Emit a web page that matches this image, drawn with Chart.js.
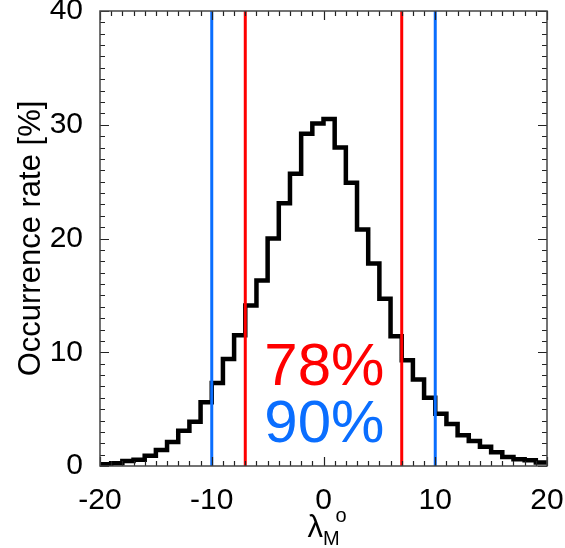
<!DOCTYPE html>
<html>
<head>
<meta charset="utf-8">
<script src="https://cdn.jsdelivr.net/npm/chart.js@4.4.1/dist/chart.umd.min.js"></script>
<style>
  html, body { margin: 0; padding: 0; background: #fff; }
  #wrap { width: 565px; height: 548px; }
</style>
</head>
<body>
<div id="wrap"><canvas id="hist__canvas" width="565" height="548"></canvas></div>
<script>
// left edge of each 1-degree bin
const binLeft = [
  -20, -19, -18, -17, -16, -15, -14, -13, -12, -11,
  -10, -9, -8, -7, -6, -5, -4, -3, -2, -1,
  0, 1, 2, 3, 4, 5, 6, 7, 8, 9,
  10, 11, 12, 13, 14, 15, 16, 17, 18, 19,
];
const binRight = 20;
// occurrence rate [%] per bin
const occurrence = [
  0.15, 0.25, 0.45, 0.55, 0.9, 1.4, 2.1, 3.1, 3.9, 5.6,
  7.3, 9.4, 11.5, 14.1, 16.3, 20.0, 23.1, 25.7, 29.2, 30.1,
  30.5, 28.0, 24.9, 20.8, 17.8, 14.7, 11.4, 9.3, 7.6, 6.0,
  4.6, 3.7, 2.7, 2.2, 1.7, 1.2, 0.8, 0.6, 0.5, 0.3,
];
const redLines = [-7, 7];
const blueLines = [-10, 10];
const xTickLabels = [-20, -10, 0, 10, 20];
const yTickLabels = [0, 10, 20, 30, 40];
const notes = ["78%", "90%"];
const notePos = [[-5.3, 7.1], [-5.3, 2.1]];

const RED = "#ff0000";
const BLUE = "#0a6eff";
const FONT = "'Liberation Sans', Arial, sans-serif";

function histPoints() {
  const pts = binLeft.map((x, i) => ({ x: x, y: occurrence[i] }));
  pts.push({ x: binRight, y: occurrence[occurrence.length - 1] });
  return pts;
}

function vline(x, color) {
  return {
    data: [{ x: x, y: 0 }, { x: x, y: 40 }],
    borderColor: color,
    borderWidth: 3,
    pointRadius: 0,
    order: 0,
  };
}

// IDL style inward ticks on all four sides plus the frame
const frameTicks = {
  id: "frameTicks",
  afterDatasetsDraw(chart) {
    const { ctx, chartArea: a } = chart;
    const xs = chart.scales.x;
    const ys = chart.scales.y;
    ctx.save();
    ctx.strokeStyle = "#222";
    ctx.lineWidth = 1.2;
    xs.ticks.forEach((t) => {
      const px = Math.round(xs.getPixelForValue(t.value)) + 0.5;
      const len = xTickLabels.includes(t.value) ? 9 : 5;
      ctx.beginPath();
      ctx.moveTo(px, a.bottom);
      ctx.lineTo(px, a.bottom - len);
      ctx.moveTo(px, a.top);
      ctx.lineTo(px, a.top + len);
      ctx.stroke();
    });
    ys.ticks.forEach((t) => {
      const py = Math.round(ys.getPixelForValue(t.value)) + 0.5;
      const len = yTickLabels.includes(t.value) ? 9 : 5;
      ctx.beginPath();
      ctx.moveTo(a.left, py);
      ctx.lineTo(a.left + len, py);
      ctx.moveTo(a.right, py);
      ctx.lineTo(a.right - len, py);
      ctx.stroke();
    });
    ctx.strokeStyle = "#444";
    ctx.lineWidth = 1.5;
    ctx.strokeRect(a.left, a.top, a.right - a.left, a.bottom - a.top);
    ctx.restore();
  },
};

const notesAndTitles = {
  id: "notesAndTitles",
  afterDraw(chart) {
    const { ctx, chartArea: a } = chart;
    const xs = chart.scales.x;
    const ys = chart.scales.y;
    ctx.save();
    ctx.textAlign = "left";
    ctx.textBaseline = "alphabetic";
    ctx.font = "60px " + FONT;
    const colors = [RED, BLUE];
    notes.forEach((txt, i) => {
      ctx.fillStyle = colors[i];
      ctx.fillText(txt, xs.getPixelForValue(notePos[i][0]), ys.getPixelForValue(notePos[i][1]));
    });

    // y title
    ctx.fillStyle = "#000";
    ctx.font = "31px " + FONT;
    ctx.translate(40, (a.top + a.bottom) / 2);
    ctx.rotate(-Math.PI / 2);
    ctx.textAlign = "center";
    ctx.fillText("Occurrence rate [%]", 0, 0);
    ctx.setTransform(1, 0, 0, 1, 0, 0);

    // x title: lambda_M ^o
    const cx = (a.left + a.right) / 2;
    ctx.textAlign = "left";
    ctx.font = "31px " + FONT;
    const wl = ctx.measureText("λ").width;
    ctx.font = "20px " + FONT;
    const wm = ctx.measureText("M").width;
    const x0 = cx - (wl + wm) / 2;
    ctx.font = "31px " + FONT;
    ctx.fillText("λ", x0, 537);
    ctx.font = "20px " + FONT;
    ctx.fillText("M", x0 + wl, 545);
    ctx.fillText("o", x0 + wl + wm - 4, 522);
    ctx.restore();
  },
};

function makeChart() {
  const ctx = document.getElementById("hist__canvas").getContext("2d");
  const datasets = [
    {
      data: histPoints(),
      stepped: "before",
      borderColor: "#000",
      borderWidth: 4.5,
      borderJoinStyle: "miter",
      pointRadius: 0,
      order: 1,
    },
  ];
  redLines.forEach((x) => datasets.push(vline(x, RED)));
  blueLines.forEach((x) => datasets.push(vline(x, BLUE)));

  return new Chart(ctx, {
    type: "line",
    data: { datasets: datasets },
    options: {
      responsive: false,
      animation: false,
      layout: { padding: { left: 0, top: 11, right: 18, bottom: 0 } },
      plugins: { legend: { display: false }, tooltip: { enabled: false } },
      scales: {
        x: {
          type: "linear",
          min: -20,
          max: 20,
          grid: { display: false },
          border: { display: false },
          ticks: {
            stepSize: 1,
            autoSkip: false,
            maxRotation: 0,
            padding: 9,
            color: "#000",
            font: { family: FONT, size: 30 },
            callback: (v) => (xTickLabels.includes(v) ? String(v) : ""),
          },
          afterFit(scale) {
            scale.height = 82;
            scale.paddingLeft = 0;
            scale.paddingRight = 0;
          },
        },
        y: {
          min: 0,
          max: 40,
          grid: { display: false },
          border: { display: false },
          ticks: {
            stepSize: 1,
            autoSkip: false,
            padding: 9,
            color: "#000",
            font: { family: FONT, size: 30 },
            callback: (v) => (yTickLabels.includes(v) ? String(v) : ""),
          },
          afterFit(scale) {
            scale.width = 100;
            scale.paddingTop = 0;
            scale.paddingBottom = 0;
          },
        },
      },
    },
    plugins: [frameTicks, notesAndTitles],
  });
}

makeChart();
</script>
</body>
</html>
